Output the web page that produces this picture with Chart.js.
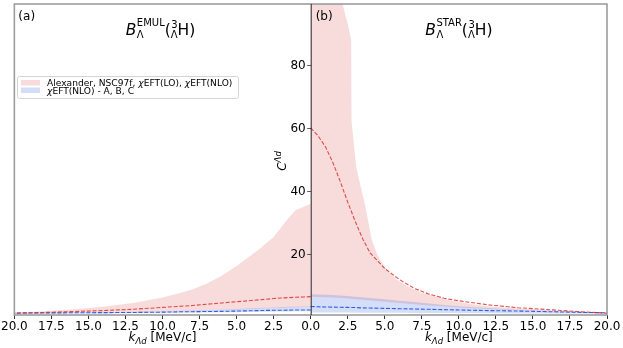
<!DOCTYPE html>
<html><head><meta charset="utf-8">
<script src="https://cdn.jsdelivr.net/npm/chart.js@4/dist/chart.umd.min.js"></script>
<style>html,body{margin:0;padding:0;background:#fff}</style>
</head><body>
<canvas id="c" width="623" height="348" style="width:623px;height:348px;display:block"></canvas>
<script>
// ---- data (k in MeV/c) ----
const kGrid = [0, 0.5, 1, 1.5, 2, 2.5, 3, 3.5, 4, 5, 6, 7, 8, 9, 10, 12, 14, 16, 18, 20];

// panel (a): EMUL
const emulPinkUpper = [36, 35, 34, 31.5, 28.5, 25.5, 23.5, 21.5, 19.8, 16.3, 13.2, 10.8, 8.9, 7.5, 6.3, 4.6, 3.4, 2.6, 2.0, 1.6];
const emulPinkLower = [3.3, 3.3, 3.2, 3.2, 3.1, 3.0, 2.9, 2.8, 2.7, 2.5, 2.35, 2.2, 2.1, 2.0, 1.9, 1.7, 1.6, 1.5, 1.4, 1.3];
const emulBlueUpper = [3.5, 3.5, 3.4, 3.4, 3.3, 3.2, 3.1, 3.0, 2.9, 2.7, 2.5, 2.4, 2.2, 2.1, 2.0, 1.8, 1.7, 1.6, 1.5, 1.4];
const emulBlueLower = [2.0, 2.0, 2.0, 1.9, 1.9, 1.9, 1.8, 1.8, 1.8, 1.7, 1.7, 1.6, 1.6, 1.5, 1.5, 1.4, 1.3, 1.3, 1.2, 1.2];
const emulRedMid = [6.6, 6.5, 6.4, 6.3, 6.2, 6.0, 5.8, 5.6, 5.4, 5.0, 4.6, 4.2, 3.8, 3.5, 3.2, 2.6, 2.2, 1.9, 1.6, 1.4];
const emulBlueMid = [2.4, 2.4, 2.4, 2.35, 2.3, 2.3, 2.25, 2.2, 2.15, 2.05, 1.95, 1.9, 1.85, 1.8, 1.7, 1.6, 1.55, 1.5, 1.45, 1.4];

// panel (b): STAR
const kStarUpper = [0, 1, 2, 2.16, 2.5, 2.73, 2.76, 3.07, 3.4, 3.7, 3.9, 4.1, 4.4, 4.65, 5, 5.8, 6.5, 7.4, 8.5, 9.4, 10.5, 11.9, 13.5, 15, 17.5, 20];
const starPinkUpper = [140, 125, 104, 99, 93, 88, 62, 47.6, 41, 35, 30, 25, 21, 18.5, 16, 12, 10, 8, 6.5, 5.5, 4.5, 3.6, 3.0, 2.6, 1.9, 1.3];
const starPinkLower = [6.6, 6.5, 6.4, 6.3, 6.2, 6.0, 5.8, 5.6, 5.4, 5.0, 4.6, 4.2, 3.8, 3.5, 3.2, 2.7, 2.3, 2.0, 1.7, 1.4];
const starBlueUpper = [7.4, 7.3, 7.2, 7.1, 7.0, 6.8, 6.6, 6.4, 6.2, 5.8, 5.3, 4.9, 4.4, 4.0, 3.6, 3.0, 2.5, 2.1, 1.8, 1.5];
const starBlueLower = [1.6, 1.6, 1.6, 1.6, 1.6, 1.6, 1.55, 1.55, 1.5, 1.5, 1.5, 1.45, 1.45, 1.4, 1.4, 1.35, 1.3, 1.3, 1.25, 1.2];
const starRedMid = [60, 57.5, 54, 49, 43, 36.5, 30.5, 25, 20.5, 15.5, 12, 9.2, 7.4, 6.1, 5.3, 4.0, 3.1, 2.5, 1.9, 1.4];
const starBlueMid = [3.5, 3.4, 3.35, 3.3, 3.25, 3.2, 3.15, 3.05, 3.0, 2.9, 2.8, 2.7, 2.6, 2.5, 2.4, 2.2, 2.05, 1.85, 1.65, 1.5];

const xTicks = [-20, -17.5, -15, -12.5, -10, -7.5, -5, -2.5, 0, 2.5, 5, 7.5, 10, 12.5, 15, 17.5, 20];
const yTicks = [20, 40, 60, 80];
const legendLabels = ['Alexander, NSC97f, ', 'EFT(NLO) - A, B, C'];

// ---- styles ----
const PINK = 'rgba(214,39,40,0.16)';
const BLUE = 'rgba(65,105,225,0.22)';
const RED_LINE = 'rgba(214,39,40,0.8)';
const BLUE_LINE = 'rgba(30,80,225,0.9)';
const FONT = 'DejaVu Sans';

const left = (arr, ks = kGrid) => ks.map((k, i) => ({x: -k, y: arr[i]}));
const right = (arr, ks = kGrid) => ks.map((k, i) => ({x: k, y: arr[i]}));
const band = (data, color, fill) => ({data, borderWidth: 0, pointRadius: 0, backgroundColor: color, fill: fill, tension: 0});
const dashed = (data, color) => ({data, borderWidth: 1.1, borderColor: color, borderDash: [4, 1.8], pointRadius: 0, fill: false, tension: 0});

const datasets = [
  dashed(left(emulRedMid), RED_LINE),
  dashed(right(starRedMid), RED_LINE),
  dashed(left(emulBlueMid), BLUE_LINE),
  dashed(right(starBlueMid), BLUE_LINE),
  band(left(emulBlueUpper), BLUE, '+1'),
  band(left(emulBlueLower), BLUE, false),
  band(right(starBlueUpper), BLUE, '+1'),
  band(right(starBlueLower), BLUE, false),
  band(left(emulPinkUpper), PINK, '+1'),
  band(left(emulPinkLower), PINK, false),
  band(right(starPinkUpper, kStarUpper), PINK, '+1'),
  band(right(starPinkLower), PINK, false),
];

function partWidth(ctx, p) {
  if (p.stack) return Math.max(...p.stack.map(s => { ctx.font = s.font; return ctx.measureText(s.t).width; })) + (p.gap || 0);
  ctx.font = p.font; return ctx.measureText(p.t).width + (p.gap || 0);
}
function drawRich(ctx, parts, x0, baseY, align) {
  const w = parts.reduce((a, p) => a + partWidth(ctx, p), 0);
  let x = align === 'left' ? x0 : x0 - w / 2;
  ctx.textAlign = 'left'; ctx.textBaseline = 'alphabetic';
  for (const p of parts) {
    if (p.stack) { for (const s of p.stack) { ctx.font = s.font; ctx.fillText(s.t, x + (s.dx || 0), baseY + s.dy); } }
    else { ctx.font = p.font; ctx.fillText(p.t, x, baseY + (p.dy || 0)); }
    x += partWidth(ctx, p);
  }
}
function titleParts(sup) {
  const big = `15.5px "${FONT}"`, bigI = `italic 15.5px "${FONT}"`, sm = `10px "${FONT}"`;
  return [
    {t: 'B', font: bigI, gap: 0.5},
    {stack: [{t: sup, font: sm, dy: -9}, {t: 'Λ', font: sm, dy: 3}]},
    {t: '(', font: big},
    {stack: [{t: '3', font: sm, dy: -7, dx: 0.5}, {t: 'Λ', font: sm, dy: 3}]},
    {t: 'H', font: big},
    {t: ')', font: big},
  ];
}

const decor = {
  id: 'decor',
  afterDraw(chart) {
    const ctx = chart.ctx, a = chart.chartArea;
    const xs = chart.scales.x, ys = chart.scales.y;
    const x0 = xs.getPixelForValue(0);
    ctx.save();
    // frame
    ctx.strokeStyle = '#9d9d9d'; ctx.lineWidth = 1.6;
    ctx.strokeRect(a.left, a.top, a.right - a.left, a.bottom - a.top);
    ctx.strokeStyle = '#222'; ctx.lineWidth = 1;
    ctx.beginPath(); ctx.moveTo(x0 + 0.5, a.top); ctx.lineTo(x0 + 0.5, a.bottom); ctx.stroke();
    // y ticks and labels on the central axis
    ctx.strokeStyle = '#333'; ctx.lineWidth = 0.8;
    ctx.fillStyle = '#000'; ctx.font = `12px "${FONT}"`; ctx.textAlign = 'right'; ctx.textBaseline = 'middle';
    for (const v of yTicks) {
      const py = Math.round(ys.getPixelForValue(v)) + 0.5;
      ctx.beginPath(); ctx.moveTo(x0 + 0.5, py); ctx.lineTo(x0 - 3.5, py); ctx.stroke();
      ctx.fillText(String(v), x0 - 5, py + 0.5);
    }
    // panel tags
    ctx.font = `12px "${FONT}"`; ctx.textAlign = 'left'; ctx.textBaseline = 'alphabetic';
    ctx.fillText('(a)', a.left + 4, 20);
    ctx.fillText('(b)', x0 + 5, 20);
    // titles
    const lc = (a.left + x0) / 2, rc = (x0 + a.right) / 2;
    drawRich(ctx, titleParts('EMUL'), lc - 2, 35, 'center');
    drawRich(ctx, titleParts('STAR'), rc, 35, 'center');
    // x titles
    const xt = [{t: 'k', font: `italic 12px "${FONT}"`}, {t: 'Λd', font: `italic 8.5px "${FONT}"`, dy: 3}, {t: ' [MeV/c]', font: `12px "${FONT}"`}];
    drawRich(ctx, xt, lc, 341, 'center');
    drawRich(ctx, xt, rc, 341, 'center');
    // y title
    ctx.save();
    ctx.translate(286, 161); ctx.rotate(-Math.PI / 2);
    drawRich(ctx, [{t: 'C', font: `italic 12px "${FONT}"`}, {t: 'Λd', font: `italic 8.5px "${FONT}"`, dy: -5}], 0, 0, 'center');
    ctx.restore();
    // legend
    const lx = 17, ly = 76, lw = 221, lh = 22;
    ctx.fillStyle = 'rgba(255,255,255,0.8)'; ctx.strokeStyle = '#d4d4d4'; ctx.lineWidth = 1;
    ctx.beginPath(); ctx.roundRect(lx + 0.5, ly + 0.5, lw, lh, 2); ctx.fill(); ctx.stroke();
    ctx.fillStyle = PINK; ctx.fillRect(21, 80, 19, 5.5);
    ctx.fillStyle = BLUE; ctx.fillRect(21, 87.5, 19, 5.5);
    ctx.fillStyle = '#000';
    const lf = `9.1px "${FONT}"`, lfi = `italic 9.1px "${FONT}"`;
    drawRich(ctx, [{t: legendLabels[0], font: lf}, {t: 'χ', font: lfi}, {t: 'EFT(LO), ', font: lf}, {t: 'χ', font: lfi}, {t: 'EFT(NLO)', font: lf}], 47, 86, 'left');
    drawRich(ctx, [{t: 'χ', font: lfi}, {t: legendLabels[1], font: lf}], 47, 94, 'left');
    ctx.restore();
  }
};

new Chart(document.getElementById('c'), {
  type: 'line',
  data: {datasets},
  options: {
    responsive: false, animation: false, devicePixelRatio: 1,
    layout: {padding: {left: 14, right: 16, top: 4, bottom: 0}},
    plugins: {legend: {display: false}, tooltip: {enabled: false}},
    scales: {
      x: {
        type: 'linear', min: -20, max: 20,
        afterBuildTicks: s => { s.ticks = xTicks.map(v => ({value: v})); },
        afterFit: s => { s.height = 33; },
        ticks: {color: '#000', font: {family: FONT, size: 12}, padding: 1, maxRotation: 0, autoSkip: false,
          callback: v => Math.abs(v).toFixed(1)},
        grid: {drawOnChartArea: false, drawTicks: true, tickLength: 4, color: '#333'},
        border: {display: false}
      },
      y: {
        type: 'linear', min: 0.8, max: 99.2, position: {x: 0},
        afterBuildTicks: s => { s.ticks = yTicks.map(v => ({value: v})); },
        ticks: {display: false},
        grid: {display: false},
        border: {display: false}
      }
    }
  },
  plugins: [decor]
});
</script>
</body></html>
